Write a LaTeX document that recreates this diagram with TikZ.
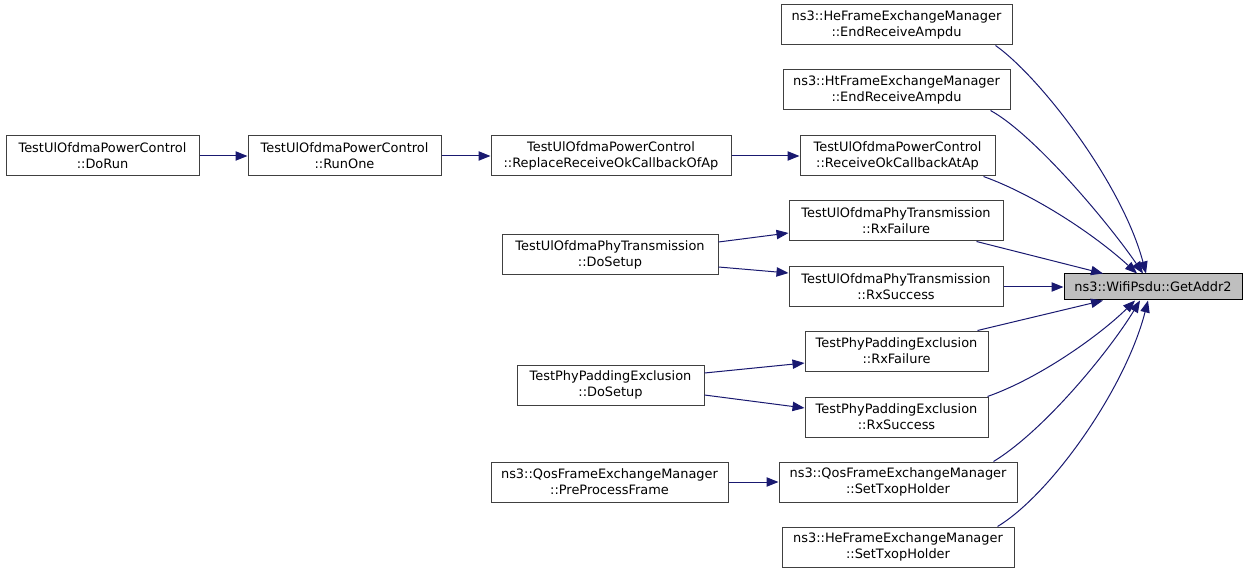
\documentclass[tikz,border=0pt]{standalone}
\usepackage{fontspec}
\setmainfont{DejaVu Sans}
\usetikzlibrary{arrows.meta,calc}
\definecolor{edgec}{HTML}{191970}
\definecolor{boxc}{HTML}{404040}
\definecolor{focfill}{HTML}{BFBFBF}
\begin{document}
\begin{tikzpicture}[x=0.75pt,y=-0.75pt,
  fn/.style 2 args={draw=boxc, line width=0.75pt, fill=white, align=center, inner sep=0pt,
    font=\fontsize{9.7}{12}\selectfont, minimum width=#1*0.75pt, minimum height=#2*0.75pt},
  focal/.style={fn={178}{26}, fill=focfill, draw=black},
  call/.style={draw=edgec, line width=0.75pt, -{Triangle[length=9pt,width=7pt]}}]
\useasboundingbox (0,0) rectangle (1248,573);

% nodes
\node[fn={193}{40}] (dorun) at (102.5,156) {TestUlOfdmaPowerControl\\::DoRun};
\node[fn={193}{40}] (runone) at (344.5,156) {TestUlOfdmaPowerControl\\::RunOne};
\node[fn={240}{40}] (replace) at (611,156) {TestUlOfdmaPowerControl\\::ReplaceReceiveOkCallbackOfAp};
\node[fn={195}{40}] (rcv) at (897.5,156) {TestUlOfdmaPowerControl\\::ReceiveOkCallbackAtAp};
\node[fn={231}{40}] (he1) at (896.5,25) {ns3::HeFrameExchangeManager\\::EndReceiveAmpdu};
\node[fn={227}{40}] (ht) at (896.5,90) {ns3::HtFrameExchangeManager\\::EndReceiveAmpdu};
\node[fn={214}{40}] (f1) at (896,221) {TestUlOfdmaPhyTransmission\\::RxFailure};
\node[fn={216}{40}] (setup1) at (610,255) {TestUlOfdmaPhyTransmission\\::DoSetup};
\node[fn={214}{40}] (s1) at (896,287) {TestUlOfdmaPhyTransmission\\::RxSuccess};
\node[focal] (g) at (1153,287) {ns3::WifiPsdu::GetAddr2};
\node[fn={183}{40}] (f2) at (896.5,351) {TestPhyPaddingExclusion\\::RxFailure};
\node[fn={187}{40}] (setup2) at (610.5,385) {TestPhyPaddingExclusion\\::DoSetup};
\node[fn={183}{40}] (s2) at (896.5,417) {TestPhyPaddingExclusion\\::RxSuccess};
\node[fn={237}{40}] (pre) at (609.5,482) {ns3::QosFrameExchangeManager\\::PreProcessFrame};
\node[fn={238}{40}] (qos) at (898,482) {ns3::QosFrameExchangeManager\\::SetTxopHolder};
\node[fn={232}{40}] (he2) at (898,547) {ns3::HeFrameExchangeManager\\::SetTxopHolder};

% straight edges
\draw[call] (dorun.east) -- (runone.west);
\draw[call] (runone.east) -- (replace.west);
\draw[call] (replace.east) -- (rcv.west);
\draw[call] ($(setup1.east)+(0,-13)$) -- ($(f1.west)+(0,12)$);
\draw[call] ($(setup1.east)+(0,12)$) -- ($(s1.west)+(0,-14)$);
\draw[call] ($(setup2.east)+(0,-12)$) -- ($(f2.west)+(0,12)$);
\draw[call] ($(setup2.east)+(0,10)$) -- ($(s2.west)+(0,-9)$);
\draw[call] (pre.east) -- (qos.west);
\draw[call] (s1.east) -- (g.west);

% edges into GetAddr2
\draw[call] ($(he1.south east)+(-17,0)$) .. controls (1040,77) and (1122,183) .. ($(g.north)+(-7,0)$);
\draw[call] ($(ht.south east)+(-20,0)$) .. controls (1035,135) and (1110,225) .. ($(g.north)+(-10,0)$);
\draw[call] ($(rcv.south east)+(-12,0)$) .. controls (1035,195) and (1095,235) .. ($(g.north)+(-16,0)$);
\draw[call] ($(f1.south east)+(-27,0)$) -- ($(g.north)+(-50,0)$);
\draw[call] ($(f2.north east)+(-11,0)$) -- ($(g.south)+(-50,0)$);
\draw[call] ($(s2.north east)+(-1,0)$) .. controls (1040,378) and (1100,335) .. ($(g.south)+(-18,0)$);
\draw[call] ($(qos.north east)+(-24,0)$) .. controls (1045,430) and (1110,350) .. ($(g.south)+(-13,0)$);
\draw[call] ($(he2.north east)+(-17,0)$) .. controls (1050,495) and (1125,390) .. ($(g.south)+(-5,0)$);
\end{tikzpicture}
\end{document}
